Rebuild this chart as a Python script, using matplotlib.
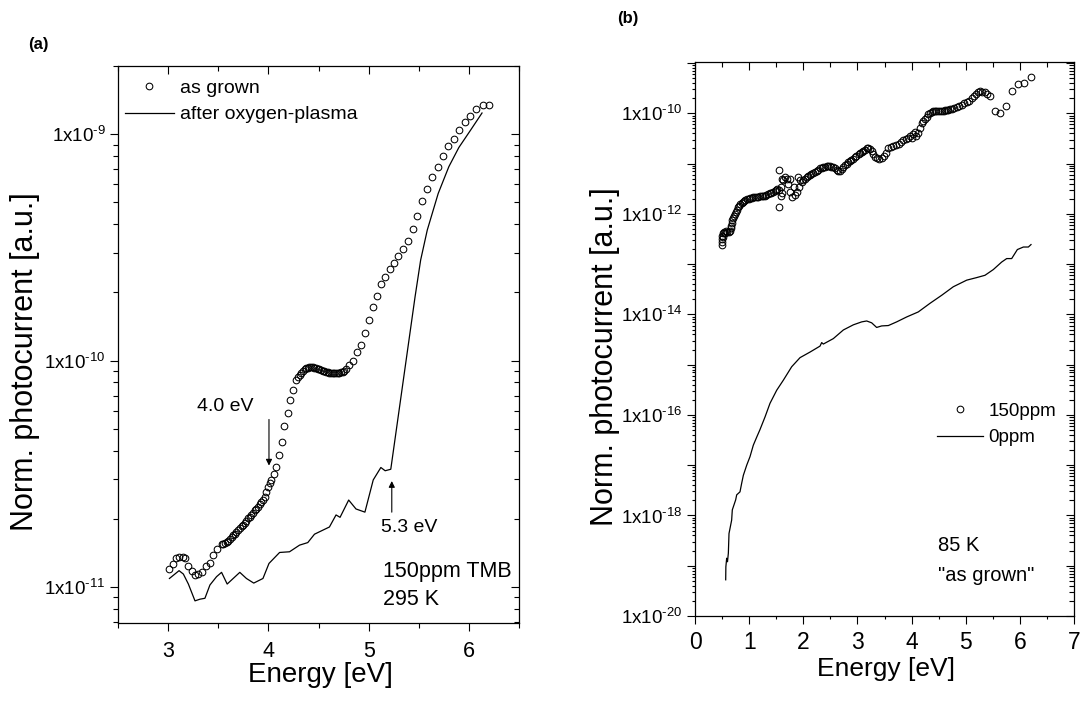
import numpy as np
import matplotlib
matplotlib.use("Agg")
import matplotlib.pyplot as plt
from matplotlib.ticker import LogLocator, MultipleLocator, FuncFormatter, NullFormatter

plt.rcParams['font.family'] = ['Liberation Sans', 'DejaVu Sans']
plt.rcParams['mathtext.fontset'] = 'custom'
plt.rcParams['mathtext.rm'] = 'Liberation Sans'
plt.rcParams['mathtext.default'] = 'regular'

# ---------------- panel (a): 150ppm TMB, 295 K ----------------
a_grown_E = [3.013, 3.047, 3.079, 3.112, 3.146, 3.172, 3.202, 3.235, 3.268, 3.301,
             3.335, 3.377, 3.417, 3.450, 3.490, 3.533, 3.550, 3.566, 3.583, 3.599,
             3.616, 3.633, 3.649, 3.665, 3.682, 3.698, 3.715, 3.732, 3.748, 3.765,
             3.781, 3.797, 3.814, 3.831, 3.847, 3.864, 3.880, 3.897, 3.913, 3.930,
             3.946, 3.963, 3.980, 3.996, 4.013, 4.030, 4.053, 4.079, 4.105, 4.132,
             4.159, 4.192, 4.219, 4.245, 4.278, 4.295, 4.311, 4.328, 4.344, 4.361,
             4.377, 4.394, 4.410, 4.427, 4.443, 4.460, 4.477, 4.493, 4.509, 4.526,
             4.542, 4.559, 4.576, 4.592, 4.609, 4.625, 4.642, 4.658, 4.675, 4.691,
             4.708, 4.725, 4.741, 4.758, 4.775, 4.807, 4.847, 4.884, 4.923, 4.963,
             4.999, 5.039, 5.079, 5.122, 5.165, 5.211, 5.254, 5.297, 5.344, 5.393,
             5.440, 5.486, 5.535, 5.585, 5.635, 5.688, 5.741, 5.793, 5.850, 5.903,
             5.959, 6.016, 6.075, 6.138, 6.198]
a_grown_I = [1.20e-11, 1.26e-11, 1.34e-11, 1.36e-11, 1.35e-11, 1.34e-11, 1.24e-11, 1.18e-11, 1.13e-11, 1.14e-11,
             1.16e-11, 1.24e-11, 1.27e-11, 1.38e-11, 1.47e-11, 1.55e-11, 1.55e-11, 1.56e-11, 1.58e-11, 1.60e-11,
             1.63e-11, 1.66e-11, 1.69e-11, 1.72e-11, 1.75e-11, 1.79e-11, 1.82e-11, 1.85e-11, 1.88e-11, 1.92e-11,
             1.96e-11, 2.01e-11, 2.04e-11, 2.08e-11, 2.13e-11, 2.19e-11, 2.22e-11, 2.26e-11, 2.32e-11, 2.38e-11,
             2.43e-11, 2.49e-11, 2.62e-11, 2.77e-11, 2.87e-11, 2.97e-11, 3.15e-11, 3.40e-11, 3.83e-11, 4.37e-11,
             5.14e-11, 5.89e-11, 6.70e-11, 7.41e-11, 8.20e-11, 8.45e-11, 8.63e-11, 8.85e-11, 9.02e-11, 9.15e-11,
             9.24e-11, 9.30e-11, 9.33e-11, 9.35e-11, 9.33e-11, 9.30e-11, 9.24e-11, 9.19e-11, 9.14e-11, 9.08e-11,
             9.02e-11, 8.97e-11, 8.93e-11, 8.88e-11, 8.84e-11, 8.84e-11, 8.84e-11, 8.82e-11, 8.81e-11, 8.82e-11,
             8.84e-11, 8.86e-11, 8.89e-11, 9.00e-11, 9.14e-11, 9.55e-11, 9.95e-11, 1.09e-10, 1.17e-10, 1.33e-10,
             1.51e-10, 1.73e-10, 1.93e-10, 2.17e-10, 2.33e-10, 2.53e-10, 2.69e-10, 2.89e-10, 3.10e-10, 3.38e-10,
             3.83e-10, 4.36e-10, 5.09e-10, 5.71e-10, 6.46e-10, 7.15e-10, 7.97e-10, 8.83e-10, 9.53e-10, 1.04e-9,
             1.13e-9, 1.20e-9, 1.29e-9, 1.34e-9, 1.35e-9]

a_plasma_E = [3.013, 3.109, 3.152, 3.202, 3.268, 3.318, 3.367, 3.417, 3.483, 3.533,
              3.589, 3.715, 3.781, 3.854, 3.946, 4.006, 4.112, 4.211, 4.311, 4.393,
              4.460, 4.609, 4.675, 4.715, 4.801, 4.874, 4.963, 5.046, 5.122, 5.165,
              5.221, 5.463, 5.519, 5.585, 5.694, 5.800, 5.900, 6.016, 6.131]
a_plasma_I = [1.09e-11, 1.18e-11, 1.14e-11, 1.03e-11, 8.68e-12, 8.83e-12, 8.91e-12, 1.02e-11, 1.11e-11, 1.16e-11,
              1.03e-11, 1.16e-11, 1.09e-11, 1.04e-11, 1.09e-11, 1.27e-11, 1.42e-11, 1.43e-11, 1.53e-11, 1.57e-11,
              1.71e-11, 1.84e-11, 2.08e-11, 2.03e-11, 2.42e-11, 2.21e-11, 2.14e-11, 2.97e-11, 3.37e-11, 3.26e-11,
              3.31e-11, 1.91e-10, 2.78e-10, 3.77e-10, 5.47e-10, 7.18e-10, 8.73e-10, 1.04e-9, 1.24e-9]

# ---------------- panel (b): 85 K, "as grown" ----------------
b_150_E = [0.49, 0.49, 0.50, 0.50, 0.51, 0.52, 0.54, 0.56, 0.58, 0.60,
           0.62, 0.64, 0.66, 0.67, 0.68, 0.69, 0.70, 0.72, 0.74, 0.76,
           0.78, 0.80, 0.82, 0.84, 0.86, 0.88, 0.90, 0.93, 0.96, 0.99,
           1.02, 1.05, 1.08, 1.11, 1.14, 1.17, 1.20, 1.23, 1.26, 1.29,
           1.32, 1.35, 1.38, 1.41, 1.44, 1.47, 1.50, 1.52, 1.55, 1.55,
           1.56, 1.58, 1.58, 1.60, 1.61, 1.63, 1.66, 1.69, 1.72, 1.75,
           1.76, 1.79, 1.82, 1.85, 1.88, 1.91, 1.93, 1.94, 1.97, 2.00,
           2.03, 2.06, 2.09, 2.12, 2.15, 2.18, 2.21, 2.25, 2.28, 2.31,
           2.34, 2.37, 2.40, 2.43, 2.46, 2.49, 2.52, 2.55, 2.58, 2.62,
           2.65, 2.68, 2.71, 2.74, 2.77, 2.80, 2.83, 2.86, 2.89, 2.92,
           2.95, 2.98, 3.02, 3.05, 3.08, 3.11, 3.14, 3.17, 3.20, 3.23,
           3.26, 3.29, 3.33, 3.37, 3.40, 3.45, 3.49, 3.52, 3.57, 3.62,
           3.66, 3.71, 3.76, 3.80, 3.85, 3.90, 3.94, 3.97, 4.00, 4.03,
           4.06, 4.09, 4.12, 4.16, 4.19, 4.22, 4.25, 4.28, 4.31, 4.34,
           4.37, 4.40, 4.43, 4.46, 4.49, 4.52, 4.56, 4.59, 4.62, 4.65,
           4.68, 4.71, 4.74, 4.78, 4.83, 4.88, 4.93, 4.97, 5.02, 5.06,
           5.11, 5.15, 5.19, 5.23, 5.26, 5.31, 5.36, 5.40, 5.44, 5.54,
           5.63, 5.75, 5.86, 5.97, 6.08, 6.21]
b_150_I = [2.4e-13, 2.8e-13, 3.2e-13, 3.6e-13, 4.2e-13, 3.4e-13, 4.4e-13, 4.2e-13, 4.5e-13, 4.3e-13,
           4.4e-13, 4.6e-13, 5.2e-13, 5.8e-13, 6.5e-13, 7.4e-13, 8.1e-13, 9.0e-13, 1.0e-12, 1.1e-12,
           1.2e-12, 1.35e-12, 1.45e-12, 1.55e-12, 1.65e-12, 1.75e-12, 1.82e-12, 1.9e-12, 1.97e-12, 2.02e-12,
           2.06e-12, 2.1e-12, 2.13e-12, 2.16e-12, 2.18e-12, 2.2e-12, 2.22e-12, 2.24e-12, 2.27e-12, 2.3e-12,
           2.35e-12, 2.45e-12, 2.55e-12, 2.65e-12, 2.75e-12, 2.85e-12, 2.95e-12, 3.1e-12, 7.4e-12, 1.35e-12,
           3.0e-12, 3.4e-12, 2.3e-12, 5.0e-12, 2.6e-12, 4.7e-12, 5.4e-12, 5.0e-12, 4.0e-12, 5.0e-12,
           2.75e-12, 2.2e-12, 3.4e-12, 2.34e-12, 2.75e-12, 5.4e-12, 3.4e-12, 4.7e-12, 4.4e-12, 4.7e-12,
           5.0e-12, 5.4e-12, 5.6e-12, 5.9e-12, 6.2e-12, 6.5e-12, 6.8e-12, 7.2e-12, 7.6e-12, 8.0e-12,
           8.3e-12, 8.5e-12, 8.7e-12, 8.8e-12, 8.9e-12, 8.9e-12, 8.7e-12, 8.4e-12, 8.0e-12, 7.6e-12,
           7.2e-12, 7.1e-12, 7.8e-12, 8.6e-12, 9.3e-12, 1.0e-11, 1.06e-11, 1.12e-11, 1.19e-11, 1.26e-11,
           1.33e-11, 1.42e-11, 1.52e-11, 1.60e-11, 1.70e-11, 1.80e-11, 1.90e-11, 2.0e-11, 2.09e-11, 1.95e-11,
           1.75e-11, 1.55e-11, 1.38e-11, 1.28e-11, 1.26e-11, 1.32e-11, 1.41e-11, 1.60e-11, 2.0e-11, 2.1e-11,
           2.19e-11, 2.35e-11, 2.5e-11, 2.7e-11, 2.9e-11, 3.1e-11, 3.2e-11, 3.6e-11, 3.2e-11, 3.9e-11,
           4.2e-11, 3.6e-11, 4.0e-11, 5.0e-11, 6.3e-11, 7.0e-11, 7.8e-11, 8.5e-11, 9.5e-11, 1.02e-10,
           1.07e-10, 1.10e-10, 1.12e-10, 1.12e-10, 1.12e-10, 1.12e-10, 1.12e-10, 1.13e-10, 1.14e-10, 1.15e-10,
           1.17e-10, 1.20e-10, 1.23e-10, 1.28e-10, 1.35e-10, 1.42e-10, 1.48e-10, 1.58e-10, 1.66e-10, 1.80e-10,
           2.04e-10, 2.2e-10, 2.4e-10, 2.6e-10, 2.75e-10, 2.7e-10, 2.63e-10, 2.4e-10, 2.19e-10, 1.12e-10,
           1.02e-10, 1.38e-10, 2.75e-10, 3.8e-10, 4.0e-10, 5.25e-10]

b_0_E = [0.567, 0.570, 0.585, 0.600, 0.616, 0.628, 0.677, 0.689, 0.751, 0.770,
         0.831, 0.862, 0.893, 0.955, 1.016, 1.077, 1.139, 1.200, 1.293, 1.385,
         1.509, 1.631, 1.786, 1.940, 2.124, 2.309, 2.340, 2.370, 2.555, 2.740,
         2.924, 3.079, 3.171, 3.263, 3.355, 3.448, 3.571, 3.725, 3.910, 4.124,
         4.340, 4.556, 4.771, 5.018, 5.203, 5.356, 5.510, 5.664, 5.757, 5.849,
         5.954, 6.065, 6.157, 6.206]
b_0_I = [5.25e-20, 9.5e-20, 1.41e-19, 1.2e-19, 1.78e-19, 4.37e-19, 8.1e-19, 1.29e-18, 2.04e-18, 2.57e-18,
         2.95e-18, 4.37e-18, 6.3e-18, 1.0e-17, 1.48e-17, 2.5e-17, 3.6e-17, 5.1e-17, 9.1e-17, 1.7e-16,
         3.1e-16, 4.9e-16, 9.1e-16, 1.38e-15, 1.78e-15, 2.34e-15, 2.75e-15, 2.57e-15, 3.3e-15, 4.9e-15,
         6.2e-15, 7.1e-15, 7.4e-15, 6.8e-15, 5.5e-15, 5.9e-15, 6.0e-15, 7.1e-15, 8.9e-15, 1.12e-14,
         1.66e-14, 2.4e-14, 3.55e-14, 4.8e-14, 5.4e-14, 6.0e-14, 7.8e-14, 1.1e-13, 1.29e-13, 1.29e-13,
         1.95e-13, 2.19e-13, 2.19e-13, 2.45e-13]

W, H = 1081, 702
fig = plt.figure(figsize=(W / 100, H / 100), dpi=100)


def frac(l, t, r, b):
    return [l / W, 1 - b / H, (r - l) / W, (b - t) / H]


def sci_label(v, pos, step=1):
    e = int(round(np.log10(v)))
    if e % step:
        return ''
    return r'$1x10^{\text{-%d}}$' % abs(e)


def style_axes(ax, ylabelsize, xlabelsize, xpad):
    for s in ax.spines.values():
        s.set_linewidth(0.9)
    ax.tick_params(which='both', direction='out', width=0.8, top=False, right=False)
    ax.tick_params(which='major', length=6, labelsize=xlabelsize)
    ax.tick_params(axis='x', which='major', pad=xpad)
    ax.tick_params(axis='y', which='major', labelsize=ylabelsize, pad=3)
    ax.tick_params(which='minor', length=3.5)
    tw = ax.figure.add_axes(ax.get_position(), sharex=ax, sharey=ax)
    tw.patch.set_visible(False)
    for s in tw.spines.values():
        s.set_visible(False)
    tw.tick_params(which='both', direction='in', width=0.8, left=False, bottom=False,
                   top=True, right=True, labelleft=False, labelbottom=False,
                   labeltop=False, labelright=False)
    tw.tick_params(which='major', length=6)
    tw.tick_params(which='minor', length=3.5)
    return tw


mk = dict(marker='o', ms=4.8, mfc='none', mec='black', mew=0.75, ls='none')

# ---- panel (a)
ax = fig.add_axes(frac(118, 66, 519, 623))
ax.set_yscale('log')
ax.plot(a_grown_E, a_grown_I, label='as grown', **mk)
ax.plot(a_plasma_E, a_plasma_I, color='black', lw=0.9, label='after oxygen-plasma')
ax.set_xlim(2.5, 6.5)
ax.set_ylim(6.93e-12, 2.0e-9)
ax.xaxis.set_major_locator(MultipleLocator(1))
ax.xaxis.set_minor_locator(MultipleLocator(0.5))
ax.yaxis.set_major_locator(LogLocator(base=10, numticks=20))
ax.yaxis.set_minor_locator(LogLocator(base=10, subs=np.arange(2, 10), numticks=20))
ax.yaxis.set_major_formatter(FuncFormatter(lambda v, p: sci_label(v, p, 1)))
ax.yaxis.set_minor_formatter(NullFormatter())
style_axes(ax, 13.5, 15.5, 7)
ax.set_xlabel('Energy [eV]', fontsize=20)
ax.set_ylabel('Norm. photocurrent [a.u.]', fontsize=22)
ax.xaxis.set_label_coords(0.506, -0.070)
ax.yaxis.set_label_coords(-0.195, 0.469)
ax.legend(loc='upper left', bbox_to_anchor=(0.0175, 0.976), frameon=False,
          fontsize=14, handlelength=2.5, handletextpad=0.35, labelspacing=0.45,
          borderpad=0, borderaxespad=0, numpoints=1)
ax.annotate('', xy=(4.006, 3.34e-11), xytext=(4.006, 5.65e-11),
            arrowprops=dict(arrowstyle='-|>', color='black', lw=0.8, mutation_scale=9))
ax.annotate('', xy=(5.231, 3.02e-11), xytext=(5.231, 2.08e-11),
            arrowprops=dict(arrowstyle='-|>', color='black', lw=0.8, mutation_scale=9))
ax.text(0.267, 0.388, '4.0 eV', transform=ax.transAxes, fontsize=14, ha='center', va='center')
ax.text(0.726, 0.171, '5.3 eV', transform=ax.transAxes, fontsize=14, ha='center', va='center')
ax.text(0.661, 0.093, '150ppm TMB', transform=ax.transAxes, fontsize=15.5, ha='left', va='center')
ax.text(0.661, 0.043, '295 K', transform=ax.transAxes, fontsize=15.5, ha='left', va='center')

# ---- panel (b)
bx = fig.add_axes(frac(695, 62, 1074, 616))
bx.set_yscale('log')
bx.plot(b_150_E, b_150_I, label='150ppm', **mk)
bx.plot(b_0_E, b_0_I, color='black', lw=0.9, label='0ppm')
bx.set_xlim(0, 7)
bx.set_ylim(1e-20, 1.05e-9)
bx.xaxis.set_major_locator(MultipleLocator(1))
bx.xaxis.set_minor_locator(MultipleLocator(0.5))
bx.yaxis.set_major_locator(LogLocator(base=10, numticks=30))
bx.yaxis.set_minor_locator(LogLocator(base=10, subs=np.arange(2, 10), numticks=30))
bx.yaxis.set_major_formatter(FuncFormatter(lambda v, p: sci_label(v, p, 2)))
bx.yaxis.set_minor_formatter(NullFormatter())
style_axes(bx, 13.5, 16.5, 5)
bx.tick_params(which='minor', length=2.5)
bx.set_xlabel('Energy [eV]', fontsize=19)
bx.set_ylabel('Norm. photocurrent [a.u.]', fontsize=22)
bx.xaxis.set_label_coords(0.503, -0.074)
bx.yaxis.set_label_coords(-0.198, 0.4675)
bx.legend(loc='upper left', bbox_to_anchor=(0.6385, 0.385), frameon=False,
          fontsize=13.5, handlelength=2.45, handletextpad=0.3, labelspacing=0.5,
          borderpad=0, borderaxespad=0, numpoints=1)
bx.text(0.641, 0.128, '85 K', transform=bx.transAxes, fontsize=14.5, ha='left', va='center')
bx.text(0.641, 0.074, '"as grown"', transform=bx.transAxes, fontsize=14.5, ha='left', va='center')

fig.text(38 / W, 1 - 45 / H, '(a)', fontsize=12, fontweight='bold', ha='center', va='center')
fig.text(628 / W, 1 - 18 / H, '(b)', fontsize=12, fontweight='bold', ha='center', va='center')

fig.savefig('out.png', dpi=100)
